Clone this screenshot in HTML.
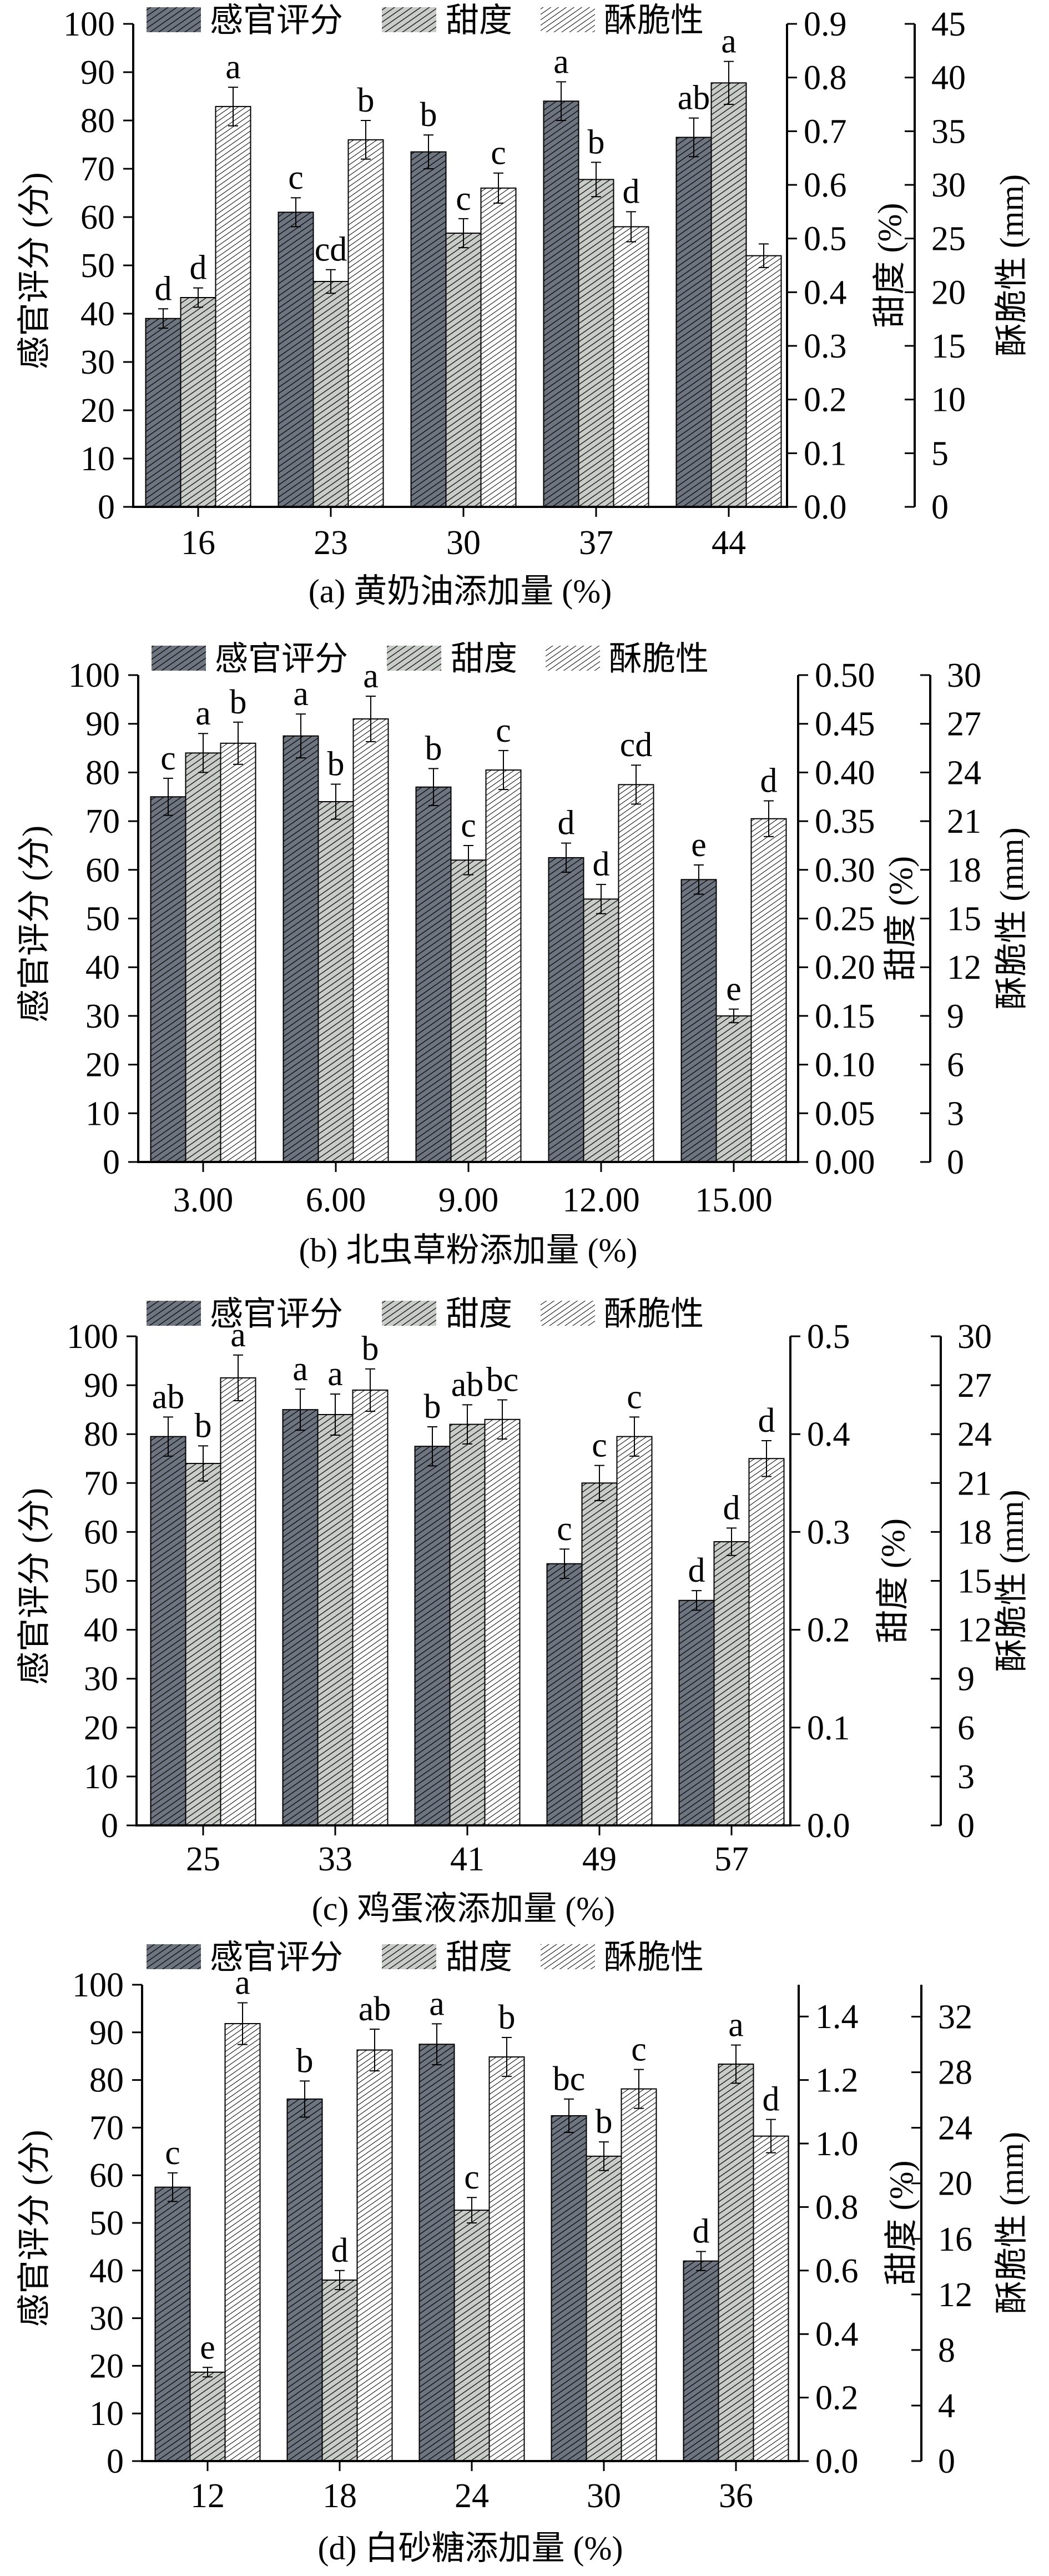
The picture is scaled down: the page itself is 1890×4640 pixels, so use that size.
<!DOCTYPE html>
<html><head><meta charset="utf-8"><style>
html,body{margin:0;padding:0;background:#fff}
svg{display:block}
text{fill:#000}
.num{font-family:"Liberation Serif","Noto Serif CJK SC",serif;font-size:62px}
.cjk{font-family:"Liberation Serif","Noto Sans CJK SC",sans-serif;font-size:60px}
</style></head><body>
<svg id="fig" xmlns="http://www.w3.org/2000/svg" width="1890" height="4640" viewBox="0 0 1890 4640">
<defs>
<pattern id="hDark" patternUnits="userSpaceOnUse" width="40" height="9" patternTransform="rotate(-35)">
<rect width="40" height="9" fill="#6e7580"/><line x1="0" y1="4.5" x2="40" y2="4.5" stroke="#000" stroke-width="1.3"/></pattern>
<pattern id="hGray" patternUnits="userSpaceOnUse" width="40" height="9" patternTransform="rotate(-35)">
<rect width="40" height="9" fill="#c9cdc8"/><line x1="0" y1="4.5" x2="40" y2="4.5" stroke="#000" stroke-width="1.3"/></pattern>
<pattern id="hWhite" patternUnits="userSpaceOnUse" width="40" height="8" patternTransform="rotate(-35)">
<rect width="40" height="8" fill="#fff"/><line x1="0" y1="4" x2="40" y2="4" stroke="#000" stroke-width="1"/></pattern>
</defs>
</svg>
<script>
// ---- data ----
const catsA = ["16","23","30","37","44"];
const scoreA = [39,61,73.5,84,76.5];
const scoreErrA = [2,3,3.5,4,4];
const sweetA = [0.39,0.42,0.51,0.61,0.79];
const sweetErrA = [0.018,0.022,0.027,0.032,0.04];
const crispA = [37.3,34.2,29.7,26.1,23.4];
const crispErrA = [1.8,1.8,1.4,1.4,1.1];
const scoreLabA = ["d","c","b","a","ab"];
const sweetLabA = ["d","cd","c","b","a"];
const crispLabA = ["a","b","c","d",""];

const catsB = ["3.00","6.00","9.00","12.00","15.00"];
const scoreB = [75,87.5,77,62.5,58];
const scoreErrB = [3.8,4.5,3.8,3,3];
const sweetB = [0.42,0.37,0.31,0.27,0.15];
const sweetErrB = [0.02,0.018,0.015,0.015,0.007];
const crispB = [25.8,27.3,24.15,23.25,21.15];
const crispErrB = [1.3,1.4,1.2,1.2,1.1];
const scoreLabB = ["c","a","b","d","e"];
const sweetLabB = ["a","b","c","d","e"];
const crispLabB = ["b","a","c","cd","d"];

const catsC = ["25","33","41","49","57"];
const scoreC = [79.5,85,77.5,53.5,46];
const scoreErrC = [4,4.2,4,3,2];
const sweetC = [0.37,0.42,0.41,0.35,0.29];
const sweetErrC = [0.018,0.021,0.02,0.018,0.014];
const crispC = [27.45,26.7,24.9,23.85,22.5];
const crispErrC = [1.4,1.3,1.2,1.2,1.1];
const scoreLabC = ["ab","a","b","c","d"];
const sweetLabC = ["b","a","ab","c","d"];
const crispLabC = ["a","b","bc","c","d"];

const catsD = ["12","18","24","30","36"];
const scoreD = [57.5,76,87.5,72.5,42];
const scoreErrD = [3,3.8,4.3,3.5,2];
const sweetD = [0.28,0.57,0.79,0.96,1.25];
const sweetErrD = [0.015,0.03,0.04,0.045,0.06];
const crispD = [31.5,29.6,29.1,26.8,23.4];
const crispErrD = [1.5,1.5,1.4,1.4,1.2];
const scoreLabD = ["c","b","a","bc","d"];
const sweetLabD = ["e","d","c","b","a"];
const crispLabD = ["a","ab","b","c","d"];

const scoreTicks = [0,10,20,30,40,50,60,70,80,90,100];
const sweetTicksA = ["0.0","0.1","0.2","0.3","0.4","0.5","0.6","0.7","0.8","0.9"];
const crispTicksA = ["0","5","10","15","20","25","30","35","40","45"];
const sweetTicksB = ["0.00","0.05","0.10","0.15","0.20","0.25","0.30","0.35","0.40","0.45","0.50"];
const crispTicksB = ["0","3","6","9","12","15","18","21","24","27","30"];
const sweetTicksC = ["0.0","0.1","0.2","0.3","0.4","0.5"];
const crispTicksC = ["0","3","6","9","12","15","18","21","24","27","30"];
const sweetTicksD = ["0.0","0.2","0.4","0.6","0.8","1.0","1.2","1.4"];
const crispTicksD = ["0","4","8","12","16","20","24","28","32"];

const svg = document.getElementById('fig');
const NS = "http://www.w3.org/2000/svg";
function mk(tag, attrs, parent){const e=document.createElementNS(NS,tag);for(const k in attrs)e.setAttribute(k,attrs[k]);(parent||svg).appendChild(e);return e;}
function txt(s, attrs, parent){const e=mk('text',attrs,parent);e.textContent=s;return e;}

const charts = [
 {id:'a',L:240,R:1418,R2:1648,top:43,y0:913,c0:357,sp:239,lg:13,lgx:0,xl:998,tl:1085,sMax:0.9,cMax:45,
  cats:catsA,score:scoreA,scoreErr:scoreErrA,sweet:sweetA,sweetErr:sweetErrA,crisp:crispA,crispErr:crispErrA,
  sl:scoreLabA,wl:sweetLabA,cl:crispLabA,st:sweetTicksA,ct:crispTicksA,title:"(a) 黄奶油添加量 (%)"},
 {id:'b',L:249,R:1438,R2:1676,top:1216,y0:2093,c0:366,sp:239,lg:1163,lgx:9,xl:2182,tl:2272,sMax:0.5,cMax:30,
  cats:catsB,score:scoreB,scoreErr:scoreErrB,sweet:sweetB,sweetErr:sweetErrB,crisp:crispB,crispErr:crispErrB,
  sl:scoreLabB,wl:sweetLabB,cl:crispLabB,st:sweetTicksB,ct:crispTicksB,title:"(b) 北虫草粉添加量 (%)"},
 {id:'c',L:246,R:1424,R2:1695,top:2407,y0:3288,c0:366,sp:238,lg:2343,lgx:0,xl:3369,tl:3458,sMax:0.5,cMax:30,
  cats:catsC,score:scoreC,scoreErr:scoreErrC,sweet:sweetC,sweetErr:sweetErrC,crisp:crispC,crispErr:crispErrC,
  sl:scoreLabC,wl:sweetLabC,cl:crispLabC,st:sweetTicksC,ct:crispTicksC,title:"(c) 鸡蛋液添加量 (%)"},
 {id:'d',L:256,R:1439,R2:1660,top:3575,y0:4433,c0:374,sp:238,lg:3502,lgx:0,xl:4516,tl:4610,sMax:1.5,cMax:34.3,
  cats:catsD,score:scoreD,scoreErr:scoreErrD,sweet:sweetD,sweetErr:sweetErrD,crisp:crispD,crispErr:crispErrD,
  sl:scoreLabD,wl:sweetLabD,cl:crispLabD,st:sweetTicksD,ct:crispTicksD,title:"(d) 白砂糖添加量 (%)"}
];

charts.forEach(C=>{
  const g = mk('g',{});
  
  
  const H = C.y0 - C.top;
  const yS = v => C.y0 - v/100*H;
  const yW = v => C.y0 - v/C.sMax*H;
  const yC = v => C.y0 - v/C.cMax*H;
  const bw = 63;
  const lg = mk('g',{},g);
  
  
  const items=[["hDark","感官评分",264,378],["hGray","甜度",688,803],["hWhite","酥脆性",974,1088]];
  items.forEach((it,i)=>{
    const r=mk('rect',{x:it[2]+C.lgx,y:C.lg,width:98,height:45,fill:'url(#'+it[0]+')'},lg);
    
    
    const t=txt(it[1],{x:it[3]+C.lgx,y:C.lg+44,class:'cjk','font-size':'62'},lg);
    
    
  });
  C.cats.forEach((c,i)=>{
    const cx = C.c0 + i*C.sp;
    const series=[
      [C.score[i],C.scoreErr[i],yS,'hDark',C.sl[i],'score'],
      [C.sweet[i],C.sweetErr[i],yW,'hGray',C.wl[i],'sweetness'],
      [C.crisp[i],C.crispErr[i],yC,'hWhite',C.cl[i],'crispness']];
    series.forEach((s,j)=>{
      const x = cx - bw*1.5 + j*bw;
      const yv = s[2](s[0]);
      const b=mk('rect',{x:x,y:yv,width:bw,height:C.y0-yv,fill:'url(#'+s[3]+')',stroke:'#000','stroke-width':2},g);
      
      
      const yt=s[2](s[0]+s[1]), yb=s[2](s[0]-s[1]), mx=x+bw/2;
      const e=mk('path',{d:`M${mx},${yt}V${yb}M${mx-9},${yt}H${mx+9}M${mx-9},${yb}H${mx+9}`,stroke:'#000','stroke-width':2,fill:'none'},g);
      
      
      if(s[4]){
        const l=txt(s[4],{x:mx,y:yt-16,'text-anchor':'middle',class:'num'},g);
        
        
      }
    });
    mk('line',{x1:cx,y1:C.y0,x2:cx,y2:C.y0+18,stroke:'#000','stroke-width':3},g);
    const xl=txt(c,{x:cx,y:C.xl,'text-anchor':'middle',class:'num'},g);
    
    
  });
  const ax=mk('path',{d:`M${C.L},${C.top}V${C.y0}H${C.R}V${C.top}M${C.R2},${C.top}V${C.y0}`,stroke:'#000','stroke-width':4,fill:'none'},g);
  
  
  scoreTicks.forEach(v=>{
    const y=yS(v);
    mk('line',{x1:C.L-18,y1:y,x2:C.L,y2:y,stroke:'#000','stroke-width':3},g);
    const t=txt(String(v),{x:C.L-33,y:y+21,'text-anchor':'end',class:'num'},g);
    
    
  });
  C.st.forEach(s=>{
    const y=yW(parseFloat(s));
    mk('line',{x1:C.R,y1:y,x2:C.R+18,y2:y,stroke:'#000','stroke-width':3},g);
    const t=txt(s,{x:C.R+30,y:y+21,class:'num'},g);
    
    
  });
  C.ct.forEach(s=>{
    const y=yC(parseFloat(s));
    mk('line',{x1:C.R2-18,y1:y,x2:C.R2,y2:y,stroke:'#000','stroke-width':3},g);
    const t=txt(s,{x:C.R2+30,y:y+21,class:'num'},g);
    
    
  });
  const mid=(C.top+C.y0)/2;
  const t1=txt("感官评分 (分)",{x:0,y:0,'text-anchor':'middle',class:'cjk',transform:`translate(82,${mid+10}) rotate(-90)`},g);
  
  
  const t2=txt("甜度 (%)",{x:0,y:0,'text-anchor':'middle',class:'cjk',transform:`translate(${C.R+205},${mid}) rotate(-90)`},g);
  
  
  const t3=txt("酥脆性 (mm)",{x:0,y:0,'text-anchor':'middle',class:'cjk',transform:`translate(1843,${mid}) rotate(-90)`},g);
  
  
  const tt=txt(C.title,{x:(C.L+C.R)/2,y:C.tl,'text-anchor':'middle',class:'cjk'},g);
  
  
});
</script>
</body></html>
